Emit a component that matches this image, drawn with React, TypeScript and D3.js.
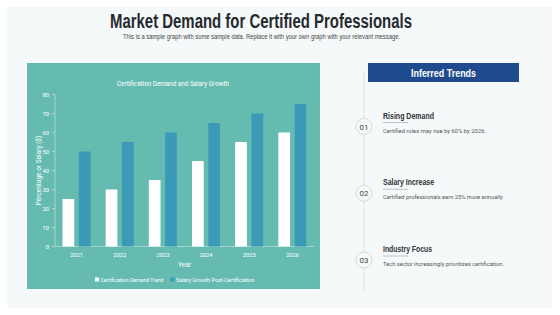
import React from "react";
import * as d3 from "d3";

const years = ["2021", "2022", "2023", "2024", "2025", "2026"];
const demandTrend = [25, 30, 35, 45, 55, 60];
const salaryGrowth = [50, 55, 60, 65, 70, 75];
const yTicks = [0, 10, 20, 30, 40, 50, 60, 70, 80];
const seriesNames = ["Certification Demand Trend", "Salary Growth Post-Certification"];
const trendNums = ["01", "02", "03"];
const trendTitles = ["Rising Demand", "Salary Increase", "Industry Focus"];
const trendTexts = [
  "Certified roles may rise by 60% by 2026.",
  "Certified professionals earn 25% more annually.",
  "Tech sector increasingly prioritizes certification.",
];
const trendTitleLens = [51, 51, 49];
const trendTextLens = [103, 121, 121];

const W = 560;
const H = 315;
const TEAL = "#66bbb1";
const BLUE = "#3a9ab8";
const NAVY = "#1f4b8e";
const AXIS = "#cfe9e5";
const narrow = "'Liberation Sans', Arial, sans-serif";
const sans = "Roboto, 'Liberation Sans', sans-serif";
const LA = "spacingAndGlyphs";

export default function App() {
  const x0 = d3.scaleBand().domain(years).range([55, 314]).paddingInner(0).paddingOuter(0);
  const x1 = d3.scaleBand().domain(["a", "b"]).range([7.5, 35.5]).paddingInner(0.28);
  const y = d3.scaleLinear().domain([0, 80]).range([246.5, 94.5]);
  const trendY = d3.scalePoint().domain(trendNums).range([126.5, 260]);

  return (
    <svg width={W} height={H} style={{ position: "absolute", left: 0, top: 0 }}>
      <rect x={0} y={0} width={W} height={H} fill="#ffffff" />
      <rect x={7} y={7} width={545} height={301} fill="#f5f9f9" />
      <text x={110} y={28} textLength={302} lengthAdjust={LA} fontFamily={narrow} fontWeight="bold" fontSize={20} fill="#262a2e">
        Market Demand for Certified Professionals
      </text>
      <text x={123} y={38.5} textLength={277} lengthAdjust={LA} fontFamily={narrow} fontSize={6.6} fill="#444">
        This is a sample graph with some sample data. Replace it with your own graph with your relevant message.
      </text>

      {/* chart panel */}
      <rect x={27} y={63} width={293} height={226} fill={TEAL} />
      <text x={117} y={86} textLength={112} lengthAdjust={LA} fontFamily={sans} fontSize={6.8} fill="#ffffff">
        Certification Demand and Salary Growth
      </text>
      {yTicks.map((t) => (
        <g key={t}>
          <line x1={52} x2={55} y1={y(t)} y2={y(t)} stroke={AXIS} strokeWidth={0.6} />
          <text x={49} y={y(t) + 2} textAnchor="end" fontFamily={sans} fontSize={5.8} fill="#ffffff">
            {t}
          </text>
        </g>
      ))}
      <line x1={55} x2={55} y1={y(80)} y2={y(0)} stroke={AXIS} strokeWidth={0.6} />
      <line x1={55} x2={314} y1={y(0)} y2={y(0)} stroke={AXIS} strokeWidth={0.6} />
      {years.map((yr, i) => (
        <g key={yr} transform={`translate(${x0(yr)},0)`}>
          <rect x={x1("a")} y={y(demandTrend[i])} width={x1.bandwidth()} height={y(0) - y(demandTrend[i])} fill="#ffffff" />
          <rect x={x1("b")} y={y(salaryGrowth[i])} width={x1.bandwidth()} height={y(0) - y(salaryGrowth[i])} fill={BLUE} />
          <text x={x0.bandwidth() / 2} y={256.5} textAnchor="middle" fontFamily={sans} fontSize={5.8} fill="#ffffff">
            {yr}
          </text>
        </g>
      ))}
      <text x={184.5} y={266.5} textAnchor="middle" fontFamily={sans} fontSize={6.5} fill="#ffffff">
        Year
      </text>
      <text
        transform={`translate(40.5,${(y(0) + y(80)) / 2}) rotate(-90)`}
        textAnchor="middle"
        fontFamily={sans}
        fontSize={6.5}
        fill="#ffffff"
      >
        Percentage or Salary ($)
      </text>
      {/* legend */}
      <rect x={95} y={277.5} width={4} height={4} fill="#ffffff" />
      <text x={100.5} y={281.8} textLength={63} lengthAdjust={LA} fontFamily={sans} fontSize={5.6} fill="#ffffff">
        {seriesNames[0]}
      </text>
      <rect x={170.5} y={277.5} width={4} height={4} fill={BLUE} />
      <text x={176} y={281.8} textLength={78} lengthAdjust={LA} fontFamily={sans} fontSize={5.6} fill="#ffffff">
        {seriesNames[1]}
      </text>

      {/* right panel */}
      <line x1={364} x2={364} y1={72} y2={290} stroke="#dcdfe1" strokeWidth={0.8} />
      <rect x={368} y={63} width={151} height={19} fill={NAVY} />
      <text x={411} y={76.5} textLength={65} lengthAdjust={LA} fontFamily={narrow} fontWeight="bold" fontSize={11} fill="#ffffff">
        Inferred Trends
      </text>
      {trendNums.map((n, i) => {
        const cy = trendY(n) as number;
        return (
          <g key={n}>
            <circle cx={364} cy={cy} r={8} fill="#f7fafa" stroke="#c9cccf" strokeWidth={0.7} />
            <text x={364} y={cy + 3} textAnchor="middle" fontFamily={sans} fontSize={8} fill="#444">
              {n}
            </text>
            <text x={383} y={cy - 8} textLength={trendTitleLens[i]} lengthAdjust={LA} fontFamily={narrow} fontWeight="bold" fontSize={8.2} fill="#2f3236">
              {trendTitles[i]}
            </text>
            <line x1={383} x2={408} y1={cy - 4} y2={cy - 4} stroke="#9aa0a6" strokeWidth={0.6} />
            <text x={383} y={cy + 6} textLength={trendTextLens[i]} lengthAdjust={LA} fontFamily={sans} fontSize={6} fill="#555">
              {trendTexts[i]}
            </text>
          </g>
        );
      })}
    </svg>
  );
}
